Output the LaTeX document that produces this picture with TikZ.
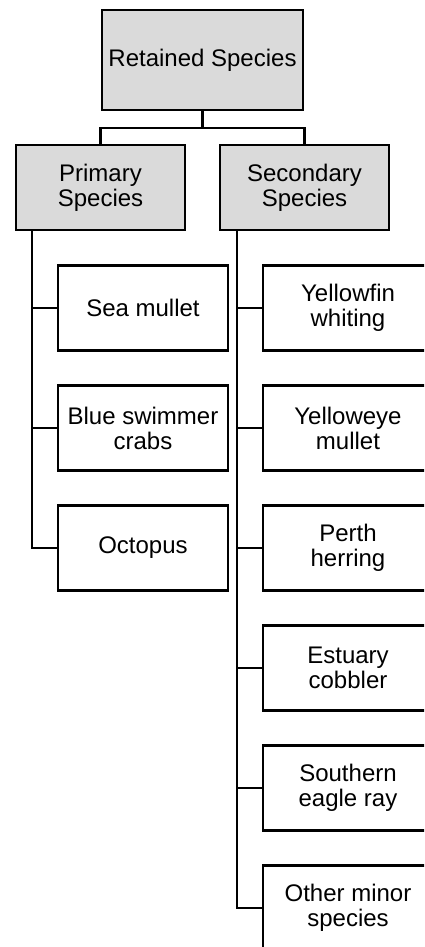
\documentclass[tikz,border=0pt]{standalone}
\usepackage{fontspec}
\setmainfont{Liberation Sans}
\usepackage{tikz}
\usetikzlibrary{positioning}
\definecolor{boxgray}{RGB}{218,218,218}

\begin{document}
\begin{tikzpicture}[x=0.5pt,y=-0.5pt,line width=1.2pt,node distance=17.5pt,
    font=\fontsize{12}{12.5}\selectfont]
  \tikzstyle{group}=[draw,fill=boxgray,align=center,inner sep=0pt,outer sep=0pt,minimum width=84.5pt,minimum height=42.5pt]
  \tikzstyle{species}=[draw,fill=white,align=center,inner sep=0pt,outer sep=0pt,minimum width=85pt,minimum height=42.5pt]

  \clip (0,0) rectangle (424,947);

  \node[group,minimum width=100.5pt,minimum height=50pt] (R) at (202.5,60) {Retained Species};
  \node[group] (P) at (100.5,187.5) {Primary\\Species};
  \node[group] (S) at (304.5,187.5) {Secondary\\Species};

  \node[species] (P1) at (143,308)   {Sea mullet};
  \node[species] (P2) [below=of P1]  {Blue swimmer\\crabs};
  \node[species] (P3) [below=of P2]  {Octopus};

  \node[species] (S1) at (348,308)   {Yellowfin\\whiting};
  \node[species] (S2) [below=of S1]  {Yelloweye\\mullet};
  \node[species] (S3) [below=of S2]  {Perth\\herring};
  \node[species] (S4) [below=of S3]  {Estuary\\cobbler};
  \node[species] (S5) [below=of S4]  {Southern\\eagle ray};
  \node[species] (S6) [below=of S5]  {Other minor\\species};

  \coordinate (fork) at (202.5,128);
  \draw (R.south) -- (fork) -| (P.north);
  \draw (fork) -| (S.north);

  % trunks down the left side of each group
  \coordinate (Ptrunk) at ([xshift=8pt]P.south west);
  \coordinate (Strunk) at ([xshift=8.5pt]S.south west);
  \foreach \c in {P1,P2,P3}
    \draw (Ptrunk) |- (\c.west);
  \foreach \c in {S1,S2,S3,S4,S5,S6}
    \draw (Strunk) |- (\c.west);
\end{tikzpicture}
\end{document}
